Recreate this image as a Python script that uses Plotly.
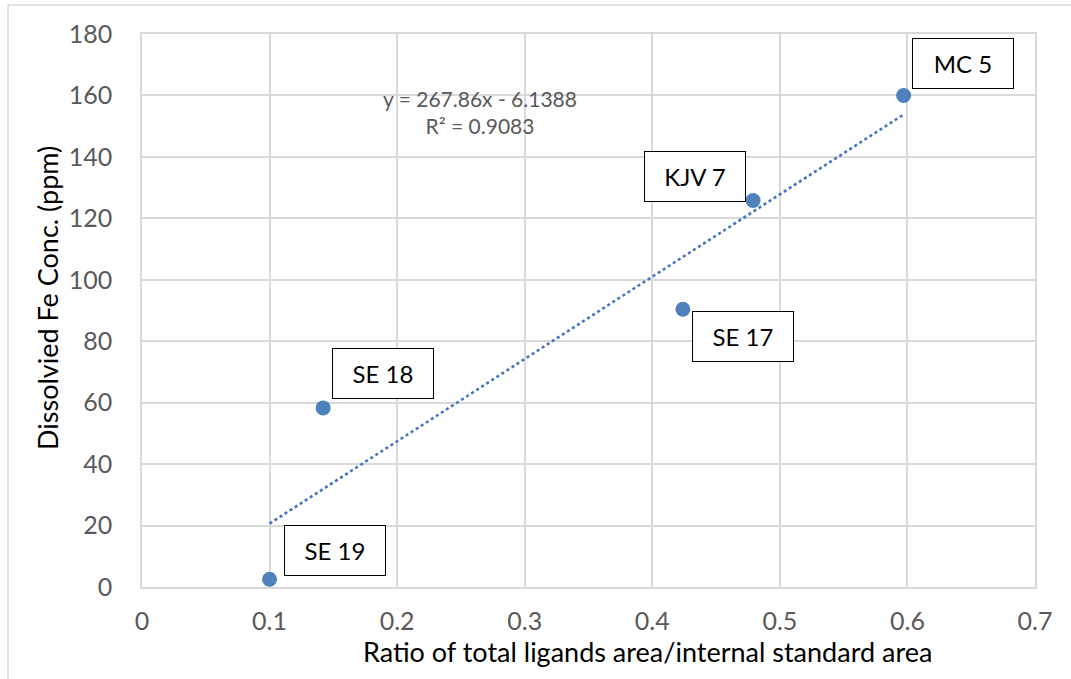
import plotly.graph_objects as go

# ---- data ----
labels = ["SE 19", "SE 18", "SE 17", "KJV 7", "MC 5"]
ratio = [0.100, 0.142, 0.424, 0.479, 0.597]
fe_ppm = [2.5, 58.3, 90.4, 125.8, 160.0]
slope = 267.86
intercept = -6.1388
r_squared = 0.9083
x_ticks = [0, 0.1, 0.2, 0.3, 0.4, 0.5, 0.6, 0.7]
y_ticks = [0, 20, 40, 60, 80, 100, 120, 140, 160, 180]

FONT = "Lato"
BLUE = "#4F81BD"
GRID = "#d9d9d9"
TICK = "#595959"

fig = go.Figure()

# trendline from displayed equation
x0, x1 = min(ratio), max(ratio)
fig.add_trace(go.Scatter(
    x=[x0, x1], y=[slope * x0 + intercept, slope * x1 + intercept],
    mode="lines", line=dict(color="#4472C4", width=2.6, dash="dot"),
    hoverinfo="skip", showlegend=False))

fig.add_trace(go.Scatter(
    x=ratio, y=fe_ppm, mode="markers",
    marker=dict(color=BLUE, size=15),
    text=labels, showlegend=False))

# label box offsets (pixels from point to box centre)
offsets = {"SE 19": (65, 29), "SE 18": (60, 34), "SE 17": (60, -27),
           "KJV 7": (-58, 24), "MC 5": (59, 32)}
for lab, xv, yv in zip(labels, ratio, fe_ppm):
    dx, dy = offsets[lab]
    fig.add_annotation(x=xv, y=yv, xref="x", yref="y", text=lab,
                       showarrow=False, xshift=dx, yshift=dy,
                       font=dict(family=FONT, size=24, color="black"),
                       bordercolor="black", borderwidth=1, borderpad=1,
                       bgcolor="white", width=98, height=47)

fig.add_annotation(x=0.2649, y=154.5, xref="x", yref="y",
                   text=f"y = {slope}x - {abs(intercept)}<br>R² = {r_squared}",
                   showarrow=False, align="center",
                   font=dict(family=FONT, size=21, color=TICK))

# axis titles
fig.add_annotation(x=(647 - 142) / 893, y=(587 - 651) / 553, xref="paper", yref="paper",
                   xanchor="center", yanchor="middle",
                   text="Ratio of total ligands area/internal standard area",
                   showarrow=False, font=dict(family=FONT, size=27, color="black"))
fig.add_annotation(x=(47 - 142) / 893, y=(587 - 298) / 553, xref="paper", yref="paper",
                   xanchor="center", yanchor="middle",
                   text="Dissolvied Fe Conc. (ppm)", textangle=-90,
                   showarrow=False, font=dict(family=FONT, size=27, color="black"))

# outer chart border (left and top edges visible)
fig.add_shape(type="line", xref="paper", yref="paper",
              x0=(8 - 142) / 893, x1=(1075 - 142) / 893,
              y0=(587 - 5) / 553, y1=(587 - 5) / 553,
              line=dict(color=GRID, width=1.5))
fig.add_shape(type="line", xref="paper", yref="paper",
              x0=(8 - 142) / 893, x1=(8 - 142) / 893,
              y0=(587 - 5) / 553, y1=(587 - 685) / 553,
              line=dict(color=GRID, width=1.5))

fig.update_xaxes(range=[0, 0.7], tickvals=x_ticks,
                 ticktext=[f"{v:g}" for v in x_ticks],
                 showgrid=True, gridcolor=GRID, gridwidth=1.5,
                 showline=True, linecolor=GRID, linewidth=1.5, mirror=True,
                 zeroline=False, ticks="", ticklabelstandoff=11,
                 tickfont=dict(family=FONT, size=25, color=TICK))
fig.update_yaxes(range=[0, 180], tickvals=y_ticks,
                 showgrid=True, gridcolor=GRID, gridwidth=1.5,
                 showline=True, linecolor=GRID, linewidth=1.5, mirror=True,
                 zeroline=False, ticks="", ticklabelstandoff=23,
                 tickfont=dict(family=FONT, size=25, color=TICK))

fig.update_layout(width=1071, height=679,
                  margin=dict(l=142, r=36, t=34, b=92),
                  paper_bgcolor="white", plot_bgcolor="white",
                  showlegend=False)

fig.write_html("out.html", include_plotlyjs=True, full_html=True,
               config={"displayModeBar": False})
